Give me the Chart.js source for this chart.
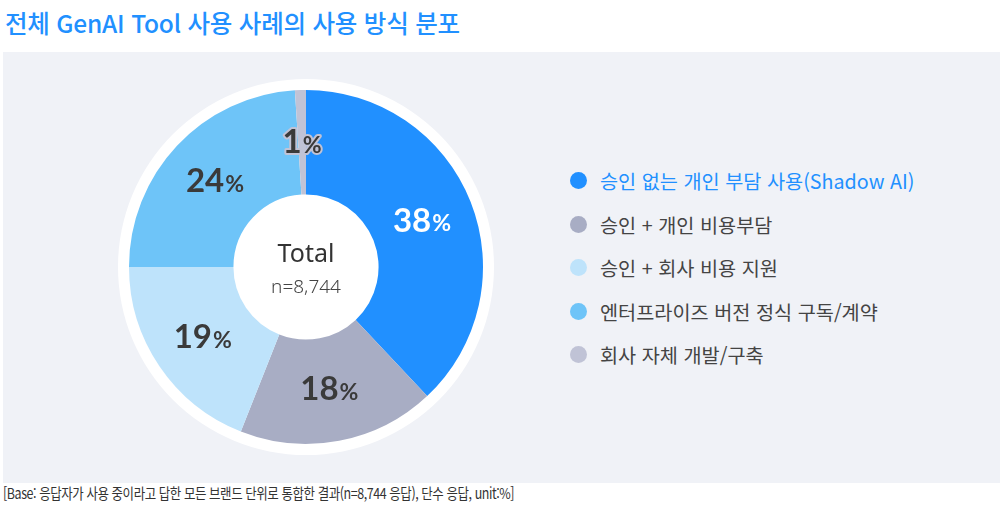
<!DOCTYPE html>
<html lang="ko">
<head>
<meta charset="utf-8">
<script src="https://cdn.jsdelivr.net/npm/chart.js@4.4.1/dist/chart.umd.min.js"></script>
<style>
  body { margin: 0; width: 1008px; height: 519px; background: #fff; position: relative; overflow: hidden;
         font-family: "Noto Sans CJK KR", "Noto Sans", sans-serif; }
  #title { position: absolute; left: 5px; top: 5px; font-size: 24.5px; font-weight: 500; color: #2190ff; letter-spacing: -0.2px; }
  #panel { position: absolute; left: 3px; top: 52px; width: 997px; height: 431px; background: #f0f2f7; }
  #wrap { position: absolute; left: 106px; top: 67px; width: 400px; height: 400px; }
  #legend { position: absolute; left: 570px; top: 159px; }
  .row { height: 43.5px; display: flex; align-items: center; font-size: 19.7px; color: #444; }
  .dot { width: 17px; height: 17px; border-radius: 50%; margin-right: 13px; }
  #note { position: absolute; left: 3px; top: 482px; font-size: 15px; color: #333; letter-spacing: -0.5px;
          transform: scaleX(0.83); transform-origin: left top; white-space: nowrap; }
</style>
</head>
<body>
<div id="title">전체 GenAI Tool 사용 사례의 사용 방식 분포</div>
<div id="panel"></div>
<div id="wrap"><canvas id="myChart" width="400" height="400"></canvas></div>
<div id="legend"></div>
<div id="note">[Base: 응답자가 사용 중이라고 답한 모든 브랜드 단위로 통합한 결과(n=8,744 응답), 단수 응답, unit:%]</div>
<script>
const categorias = ['승인 없는 개인 부담 사용(Shadow AI)', '승인 + 개인 비용부담', '승인 + 회사 비용 지원', '엔터프라이즈 버전 정식 구독/계약', '회사 자체 개발/구축'];
const valores = [38, 18, 19, 24, 1];
const colores = ['#2190ff', '#a8adc4', '#bee3fb', '#6ec4f8', '#c0c3d6'];
const colorEtiqueta = ['#ffffff', '#3a3a3a', '#3a3a3a', '#3a3a3a', '#3a3a3a'];
const totalN = 'n=8,744';

// leyenda en HTML
const legend = document.getElementById('legend');
categorias.forEach(function(cat, i) {
  const row = document.createElement('div');
  row.className = 'row';
  if (i === 0) row.style.color = colores[0];
  row.innerHTML = '<span class="dot" style="background:' + colores[i] + '"></span><span>' + cat + '</span>';
  legend.appendChild(row);
});

const anillo = {
  id: 'anillo',
  beforeDatasetsDraw(chart) {
    const arc = chart.getDatasetMeta(0).data[0];
    const ctx = chart.ctx;
    ctx.save();
    ctx.fillStyle = '#ffffff';
    ctx.beginPath();
    ctx.arc(arc.x, arc.y, arc.outerRadius + 11, 0, Math.PI * 2);
    ctx.fill();
    ctx.restore();
  },
  afterDatasetsDraw(chart) {
    const meta = chart.getDatasetMeta(0);
    const ctx = chart.ctx;
    ctx.save();
    ctx.textBaseline = 'middle';
    meta.data.forEach(function(arc, i) {
      const p = arc.tooltipPosition();
      const num = String(valores[i]);
      ctx.font = 'bold 33px Lato, "Noto Sans", sans-serif';
      const w1 = ctx.measureText(num).width;
      ctx.font = 'bold 23px Lato, "Noto Sans", sans-serif';
      const w2 = ctx.measureText('%').width;
      const x0 = p.x - (w1 + w2 + 1) / 2;
      ctx.lineJoin = 'round';
      ctx.lineWidth = 4;
      ctx.strokeStyle = colores[i];
      ctx.fillStyle = colorEtiqueta[i];
      ctx.font = 'bold 33px Lato, "Noto Sans", sans-serif';
      ctx.textAlign = 'left';
      ctx.strokeText(num, x0, p.y);
      ctx.fillText(num, x0, p.y);
      ctx.font = 'bold 23px Lato, "Noto Sans", sans-serif';
      ctx.strokeText('%', x0 + w1 + 1, p.y + 3);
      ctx.fillText('%', x0 + w1 + 1, p.y + 3);
    });
    const c = meta.data[0];
    ctx.textAlign = 'center';
    ctx.fillStyle = '#333333';
    ctx.font = '25px "Noto Sans", sans-serif';
    ctx.fillText('Total', c.x, c.y - 12);
    ctx.fillStyle = '#444444';
    ctx.font = '300 19px "Noto Sans", sans-serif';
    ctx.fillText(totalN, c.x, c.y + 21);
    ctx.restore();
  }
};

const ctx = document.getElementById('myChart').getContext('2d');
const myChart = new Chart(ctx, {
  type: 'doughnut',
  data: {
    labels: categorias,
    datasets: [{
      data: valores,
      backgroundColor: colores,
      borderWidth: 0,
      hoverOffset: 0
    }]
  },
  options: {
    responsive: false,
    animation: false,
    radius: 177,
    cutout: '41%',
    plugins: {
      legend: { display: false },
      tooltip: { enabled: false }
    }
  },
  plugins: [anillo]
});
</script>
</body>
</html>
